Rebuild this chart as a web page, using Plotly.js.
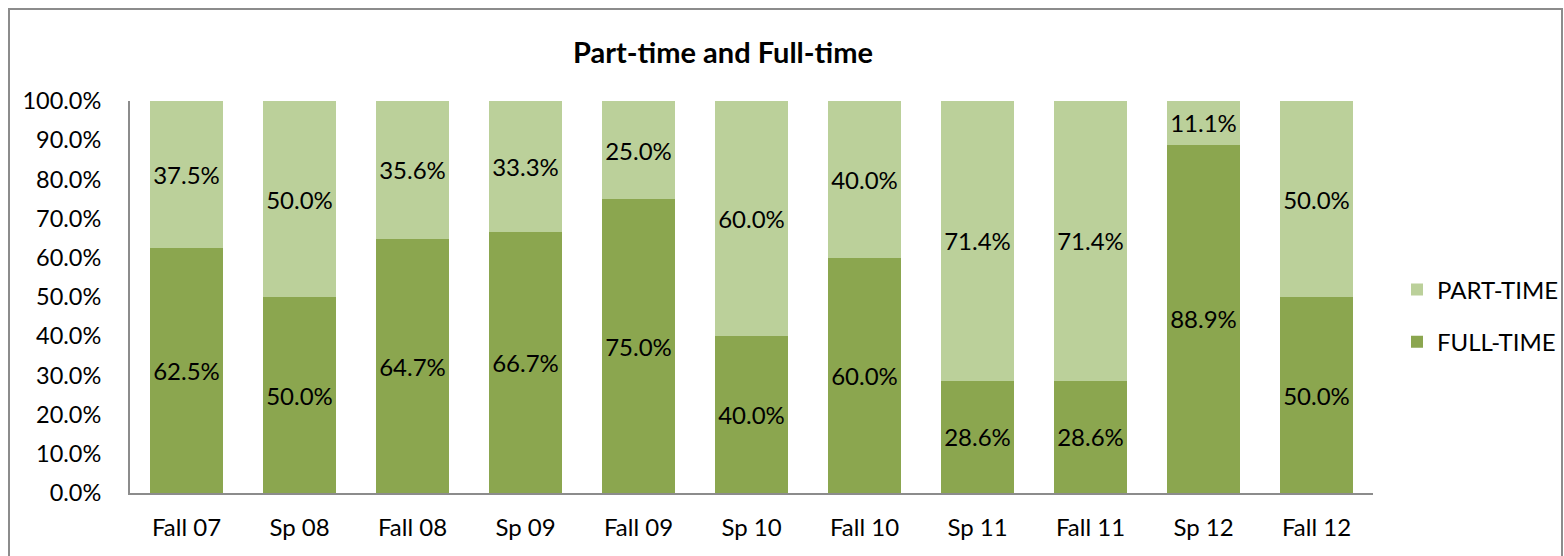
<!DOCTYPE html>
<html>
<head>
<meta charset="utf-8">
<script src="https://cdn.plot.ly/plotly-3.0.1.min.js"></script>
<style>html,body{margin:0;padding:0;background:#fff;}#chart{width:1564px;height:556px;}</style>
</head>
<body>
<div id="chart"></div>
<script>
const categories = ["Fall 07","Sp 08","Fall 08","Sp 09","Fall 09","Sp 10","Fall 10","Sp 11","Fall 11","Sp 12","Fall 12"];
const fullTime = [0.625,0.500,0.647,0.667,0.750,0.400,0.600,0.286,0.286,0.889,0.500];
const partTime = [0.375,0.500,0.356,0.333,0.250,0.600,0.400,0.714,0.714,0.111,0.500];
const yTickVals = [0,0.1,0.2,0.3,0.4,0.5,0.6,0.7,0.8,0.9,1.0];

const font = "Lato, 'Open Sans', sans-serif";
const common = {
  type: 'bar',
  x: categories,
  texttemplate: '%{y:.1%}',
  textposition: 'inside',
  insidetextanchor: 'middle',
  textangle: 0,
  constraintext: 'none',
  textfont: {family: font, size: 24, color: '#000'},
  hoverinfo: 'skip'
};
const traces = [
  Object.assign({}, common, {name: 'FULL-TIME', y: fullTime, marker: {color: '#8BA64F'}, legendgroup: 'f', legendrank: 2}),
  Object.assign({}, common, {name: 'PART-TIME', y: partTime, marker: {color: '#BBD09A'}, legendgroup: 'p', legendrank: 1})
];
const L = 130, R = 1373, T = 101, B = 493;
const W = R - L, H = B - T;
const layout = {
  width: 1564, height: 556,
  margin: {l: L, r: 1564 - R, t: T, b: 556 - B, autoexpand: false},
  barmode: 'stack',
  bargap: 0.36,
  paper_bgcolor: '#fff', plot_bgcolor: '#fff',
  font: {family: font, size: 24, color: '#000'},
  title: {text: '<b>Part-time and Full-time</b>', font: {family: font, size: 29, color: '#000'},
          x: 723/1564, xanchor: 'center', y: 1 - 53/556, yanchor: 'middle'},
  xaxis: {showline: true, linecolor: '#8c8c8c', linewidth: 2, ticks: '', showgrid: false,
          tickfont: {family: font, size: 24}, ticklabelstandoff: 12, fixedrange: true},
  yaxis: {range: [0, 1], tickvals: yTickVals, tickformat: '.1%', showline: true, linecolor: '#8c8c8c', linewidth: 2,
          ticks: '', showgrid: false, zeroline: false, tickfont: {family: font, size: 23.5}, ticklabelstandoff: 22, fixedrange: true},
  legend: {x: (1397 - L)/W, xanchor: 'left', y: (B - 316)/H, yanchor: 'middle', traceorder: 'grouped',
           font: {family: font, size: 24}, tracegroupgap: 18, itemwidth: 30, bgcolor: 'rgba(0,0,0,0)'},
  shapes: [{type: 'rect', xref: 'paper', yref: 'paper', layer: 'below',
            x0: (9 - L)/W, x1: (1562 - L)/W, y0: (B - 600)/H, y1: (B - 9)/H,
            line: {color: '#8c8c8c', width: 2}, fillcolor: 'rgba(0,0,0,0)'}]
};
Plotly.newPlot('chart', traces, layout, {displayModeBar: false, staticPlot: true});
</script>
</body>
</html>
